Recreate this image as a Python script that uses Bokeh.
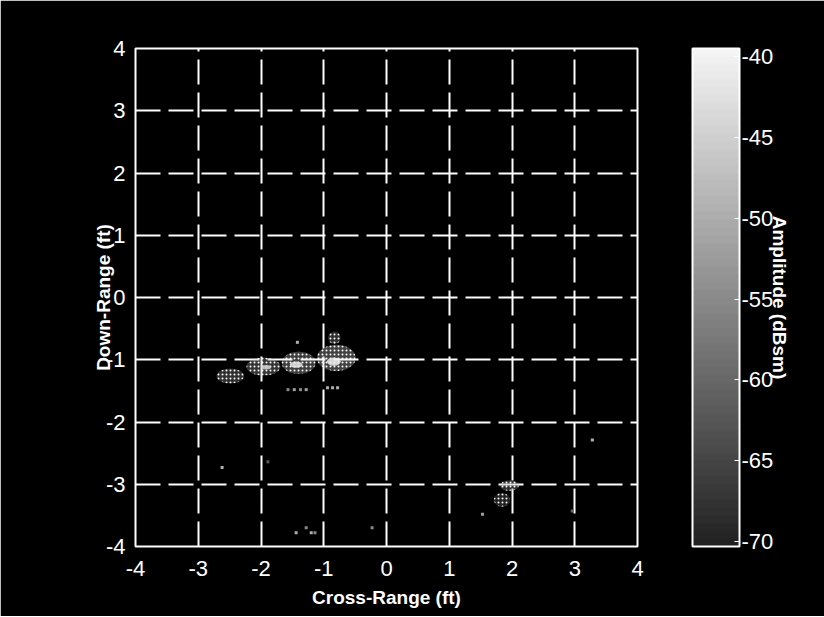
import numpy as np
from bokeh.plotting import figure
from bokeh.models import (ColorBar, LinearColorMapper, FixedTicker, Range1d,
                          ColumnDataSource, LinearAxis)
from bokeh.transform import transform
from bokeh.embed import file_html
from bokeh.resources import INLINE

# ---------------- data ----------------
x_ticks = [-4, -3, -2, -1, 0, 1, 2, 3, 4]
y_ticks = [-4, -3, -2, -1, 0, 1, 2, 3, 4]
cb_ticks = [-70, -65, -60, -55, -50, -45, -40]

# scattering blobs (cross-range ft, down-range ft, extent ft, amplitude dBsm)
blob_x = [-2.49, -1.96, -1.40, -0.80, -0.83, 1.96, 1.84]
blob_y = [-1.26, -1.11, -1.05, -0.97, -0.65, -3.02, -3.25]
blob_w = [0.44, 0.54, 0.54, 0.62, 0.20, 0.30, 0.26]
blob_h = [0.24, 0.29, 0.36, 0.42, 0.20, 0.17, 0.22]
blob_db = [-52, -49, -45, -43, -52, -52, -58]

# bright cores of the blobs
core_x = [-1.92, -1.44, -0.84]
core_y = [-1.12, -1.08, -1.03]
core_w = [0.16, 0.20, 0.22]
core_h = [0.07, 0.10, 0.13]
core_db = [-44, -41, -40]

# isolated weak returns
spot_x = [-2.62, -1.89, -1.44, -1.28, -1.20, -1.14, -0.23, 3.28, 1.53, 2.96, -1.42,
          -1.57, -1.47, -1.37, -1.28, -0.94, -0.86, -0.78]
spot_y = [-2.73, -2.64, -3.78, -3.70, -3.78, -3.78, -3.70, -2.29, -3.48, -3.43, -0.72,
          -1.48, -1.48, -1.48, -1.48, -1.45, -1.45, -1.45]
spot_db = [-50, -62, -50, -55, -50, -55, -55, -50, -52, -60, -50,
           -55, -52, -55, -52, -50, -50, -50]

# ---------------- styling ----------------
grays = ["#%02x%02x%02x" % (v, v, v) for v in np.linspace(0x22, 0xf4, 64).astype(int)]
mapper = LinearColorMapper(palette=grays, low=-70.3, high=-39.5)
FONT = "Liberation Sans"

p = figure(width=824, height=616, x_range=Range1d(-4, 4), y_range=Range1d(-4, 4),
           output_backend="svg", toolbar_location=None,
           background_fill_color="black", border_fill_color="black",
           outline_line_color="white", outline_line_width=2,
           min_border_left=135, min_border_right=187, min_border_top=48,
           min_border_bottom=70)

for ax, ticks in ((p.xaxis, x_ticks), (p.yaxis, y_ticks)):
    ax.ticker = FixedTicker(ticks=ticks)
    ax.major_label_overrides = {t: str(t) for t in ticks}
    ax.axis_line_color = None
    ax.major_tick_line_color = None
    ax.minor_tick_line_color = None
    ax.major_label_text_color = "white"
    ax.major_label_text_font = FONT
    ax.major_label_text_font_size = "22px"
    ax.axis_label_text_color = "white"
    ax.axis_label_text_font = FONT
    ax.axis_label_text_font_size = "19px"
    ax.axis_label_text_font_style = "bold"

p.xaxis.axis_label = "Cross-Range (ft)"
p.yaxis.axis_label = "Down-Range (ft)"
p.xaxis.major_label_standoff = 8
p.yaxis.major_label_standoff = 4
p.xaxis.axis_label_standoff = 8
p.yaxis.axis_label_standoff = -11

for g in (p.xgrid, p.ygrid):
    g.grid_line_color = "white"
    g.grid_line_width = 2
    g.grid_line_dash = "25 8"
    g.grid_line_alpha = 1.0

blobs = ColumnDataSource(dict(x=blob_x, y=blob_y, w=blob_w, h=blob_h, db=blob_db))
cores = ColumnDataSource(dict(x=core_x, y=core_y, w=core_w, h=core_h, db=core_db))
spots = ColumnDataSource(dict(x=spot_x, y=spot_y, db=spot_db))

p.ellipse(x="x", y="y", width="w", height="h", source=blobs,
          fill_color=transform("db", mapper), fill_alpha=0.3, line_color=None,
          hatch_pattern="dot", hatch_scale=4, hatch_weight=3,
          hatch_color="white")
p.ellipse(x="x", y="y", width="w", height="h", source=cores,
          fill_color=transform("db", mapper), fill_alpha=0.85, line_color=None)
p.scatter(x="x", y="y", source=spots, marker="square", size=3,
          fill_color=transform("db", mapper), line_color=None)

cb = ColorBar(color_mapper=mapper, width=47, height=498, padding=0,
              location=(55, 0),
              ticker=FixedTicker(ticks=cb_ticks),
              major_label_overrides={t: str(t) for t in cb_ticks},
              major_label_text_color="white", major_label_text_font=FONT,
              major_label_text_font_size="22px", label_standoff=2,
              major_tick_line_color="white", major_tick_in=5, major_tick_out=0,
              minor_tick_line_color=None,
              bar_line_color="white", bar_line_width=2,
              background_fill_alpha=0, border_line_color=None)
p.add_layout(cb, "right")

amp_axis = LinearAxis(ticker=FixedTicker(ticks=[]), axis_line_color=None,
                      major_tick_line_color=None, minor_tick_line_color=None,
                      axis_label="Amplitude (dBsm)", axis_label_standoff=-8,
                      axis_label_text_color="white", axis_label_text_font=FONT,
                      axis_label_text_font_size="19px",
                      axis_label_text_font_style="bold")
p.add_layout(amp_axis, "right")

open("out.html", "w").write(file_html(p, INLINE))
